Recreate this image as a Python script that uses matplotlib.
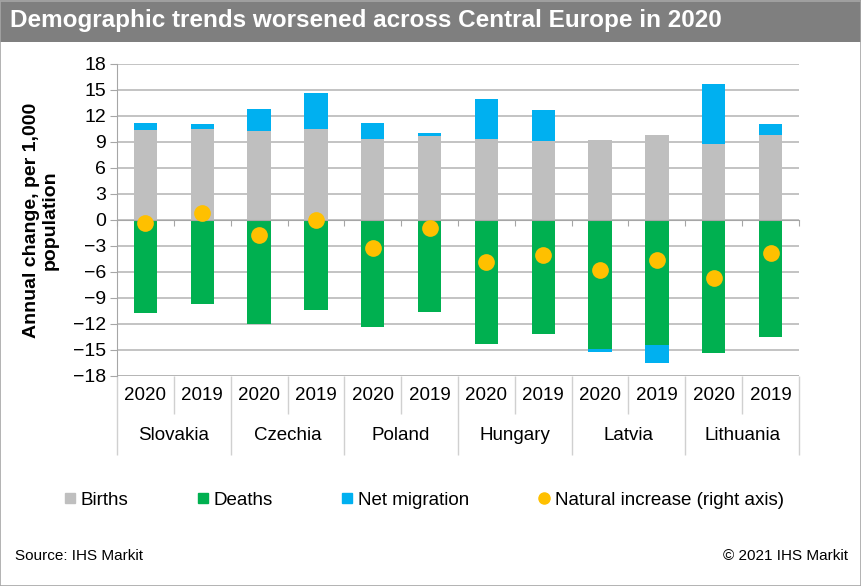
import numpy as np
import matplotlib
matplotlib.use("Agg")
import matplotlib.pyplot as plt
from matplotlib import font_manager
from matplotlib.lines import Line2D
from matplotlib.patches import Rectangle

# datos
countries = ["Slovakia", "Czechia", "Poland", "Hungary", "Latvia", "Lithuania"]
years = ["2020", "2019"]
births = [10.4, 10.5, 10.3, 10.45, 9.3, 9.75, 9.4, 9.1, 9.2, 9.8, 8.75, 9.8]
deaths = [-10.7, -9.65, -12.0, -10.4, -12.35, -10.6, -14.3, -13.15, -14.9, -14.4, -15.4, -13.55]
net_migration = [0.75, 0.6, 2.5, 4.15, 1.9, 0.25, 4.6, 3.55, -0.35, -2.15, 6.95, 1.3]
natural_increase = [-0.35, 0.8, -1.7, 0.05, -3.2, -0.9, -4.9, -4.05, -5.75, -4.6, -6.7, -3.85]

c_births = "#bfbfbf"
c_deaths = "#00b050"
c_mig = "#00b0f0"
c_nat = "#ffc000"
c_axis = "#a6a6a6"

def pick_font(names):
    for n in names:
        try:
            font_manager.findfont(n, fallback_to_default=False)
            return n
        except Exception:
            pass
    return "DejaVu Sans"

base_font = pick_font(["Liberation Sans", "Arial"])
plt.rcParams['font.family'] = [base_font, "DejaVu Sans"]

W, H = 862, 586
fig = plt.figure(figsize=(W / 100, H / 100), dpi=100)

# marco y barra de titulo
fig.patches.append(Rectangle((0, (H - 42) / H), 1, 42 / H, transform=fig.transFigure,
                             facecolor="#7f7f7f", edgecolor="none", zorder=0))
fig.patches.append(Rectangle((0.5 / W, 0.5 / H), (W - 1.5) / W, (H - 1.5) / H, transform=fig.transFigure,
                             facecolor="none", edgecolor=c_axis, linewidth=1.2, zorder=1))
fig.text(10 / W, 1 - 21 / H, "Demographic trends worsened across Central Europe in 2020",
         color="white", fontsize=17.5, fontweight="bold", va="center", ha="left")

ax_l, ax_r, ax_t, ax_b = 117, 799, 64, 376
ax = fig.add_axes([ax_l / W, 1 - ax_b / H, (ax_r - ax_l) / W, (ax_b - ax_t) / H])

n = len(births)
x = np.arange(n)
births = np.array(births)
deaths = np.array(deaths)
net_migration = np.array(net_migration)
mig_bottom = np.where(net_migration >= 0, births, deaths)

bw = 0.41
ax.bar(x, births, bw, color=c_births, zorder=2)
ax.bar(x, deaths, bw, color=c_deaths, zorder=2)
ax.bar(x, net_migration, bw, bottom=mig_bottom, color=c_mig, zorder=2)
ax.scatter(x, natural_increase, s=145, color=c_nat, zorder=4, linewidths=0)

ax.set_xlim(-0.5, n - 0.5)
ax.set_ylim(-18, 18)
ax.set_yticks(np.arange(-18, 19, 3))
ax.tick_params(axis="y", labelsize=14, length=5, color=c_axis, pad=3)
ax.yaxis.grid(True, color="#b3b3b3", linewidth=1.1, zorder=0)
ax.set_axisbelow(True)

for s in ["top", "right"]:
    ax.spines[s].set_visible(False)
ax.spines["left"].set_color(c_axis)
ax.spines["bottom"].set_position(("data", 0))
ax.spines["bottom"].set_color(c_axis)
ax.spines["bottom"].set_zorder(3)
ax.set_xticks(np.arange(-0.5, n, 1))
ax.set_xticklabels([])
ax.tick_params(axis="x", length=4, color=c_axis)

# etiquetas de categorias
tr = ax.get_xaxis_transform()
ph = ax_b - ax_t
for i in range(n):
    ax.text(i, -(396 - ax_b) / ph, years[i % 2], transform=tr, ha="center", va="center", fontsize=13.5)
for j, c in enumerate(countries):
    ax.text(2 * j + 0.5, -(436 - ax_b) / ph, c, transform=tr, ha="center", va="center", fontsize=13.5)
ax.vlines(np.arange(0.5, n, 2), -(414 - ax_b) / ph, 0, transform=tr, color="#d0d0d0", lw=1, clip_on=False)
ax.vlines(np.arange(-0.5, n + 0.5, 2), -(455 - ax_b) / ph, 0, transform=tr, color="#d0d0d0", lw=1, clip_on=False)
ax.axhline(-18, color="#b3b3b3", lw=1.1)

fig.text(41 / W, 1 - 220 / H, "Annual change, per 1,000\npopulation", rotation=90,
         ha="center", va="center", fontsize=14, fontweight="bold", linespacing=1.1)

handles = [
    Line2D([], [], marker="s", ls="", color=c_births, markersize=7),
    Line2D([], [], marker="s", ls="", color=c_deaths, markersize=7),
    Line2D([], [], marker="s", ls="", color=c_mig, markersize=7),
    Line2D([], [], marker="o", ls="", color=c_nat, markersize=8),
]
labels = ["Births", "Deaths", "Net migration", "Natural increase (right axis)"]
fig.legend(handles, labels, loc="center left", bbox_to_anchor=(64 / W, 1 - 500 / H), ncol=4,
           frameon=False, fontsize=13.5, handlelength=0.6, handletextpad=0.3, columnspacing=3.65,
           borderpad=0, borderaxespad=0)

fig.text(15 / W, 1 - 556 / H, "Source: IHS Markit", fontsize=11, ha="left", va="center")
fig.text(848 / W, 1 - 556 / H, "\u00a9 2021 IHS Markit", fontsize=11, ha="right", va="center")

fig.savefig("out.png", dpi=100)
